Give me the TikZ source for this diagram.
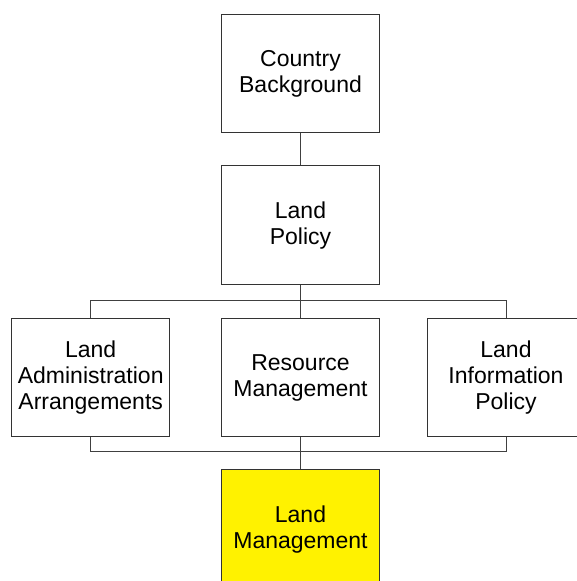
\documentclass[tikz,border=0pt]{standalone}
\usepackage{fontspec}
\setmainfont{Liberation Sans}
\begin{document}
\begin{tikzpicture}[x=1pt,y=1pt,
  boxnode/.style={draw=black!80, line width=1pt, minimum width=157.5pt, minimum height=118.5pt,
    inner sep=0pt, align=center, font=\fontsize{23}{26}\selectfont, fill=white},
  conn/.style={draw=black!75, line width=1pt}]
\useasboundingbox (0,0) rectangle (577,-581);
\clip (0,0) rectangle (577,-581);
\node[boxnode] (cb) at (300.5,-73.5) {Country\\Background};
\node[boxnode] (lp) at (300.5,-225.2) {Land\\Policy};
\node[boxnode] (la) at (90.7,-377.5) {Land\\Administration\\Arrangements};
\node[boxnode] (rm) at (300.5,-377.5) {Resource\\Management};
\node[boxnode] (li) at (506,-377.5) {Land\\Information\\Policy};
\node[boxnode, fill=yellow] (lm) at (300.5,-529.2) {Land\\Management};
\coordinate (tl) at (90.7,-300);
\coordinate (tr) at (506,-300);
\coordinate (bl) at (90.7,-451.7);
\coordinate (br) at (506,-451.7);
\draw[conn] (cb.south) -- (lp.north);
\draw[conn] (lp.south) -- (rm.north);
\draw[conn] (la.north) -- (tl) -- (tr) -- (li.north);
\draw[conn] (la.south) -- (bl) -- (br) -- (li.south);
\draw[conn] (rm.south) -- (lm.north);
\end{tikzpicture}
\end{document}
